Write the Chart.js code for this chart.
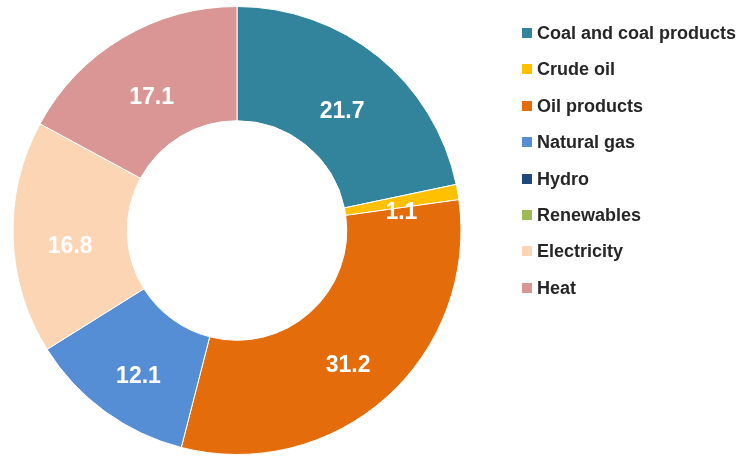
<!DOCTYPE html>
<html lang="en">
    <head>
        <meta charset="UTF-8">
        <title>Final consumption by source</title>
        <script src="https://cdn.jsdelivr.net/npm/chart.js@4.4.1/dist/chart.umd.min.js"></script>
        <style>
            body, html {
                margin: 0;
                padding: 0;
                background-color: #ffffff;
                font-family: 'Liberation Sans', Arial, sans-serif;
            }
            #wrap {
                position: relative;
                width: 745px;
                height: 463px;
            }
            #legend {
                position: absolute;
                left: 522px;
                top: 23px;
                margin: 0;
                padding: 0;
                list-style: none;
            }
            #legend li {
                height: 36.4px;
                line-height: 20px;
                font-size: 18px;
                font-weight: bold;
                color: #262626;
                white-space: nowrap;
            }
            #legend span {
                display: inline-block;
                width: 10px;
                height: 10px;
                margin-right: 5px;
                vertical-align: 1px;
            }
        </style>
    </head>
    <body>
        <div id="wrap">
            <canvas id="myChart" width="745" height="463"></canvas>
            <ul id="legend"></ul>
        </div>
    </body>
    <script>
        var labels = ["Coal and coal products", "Crude oil", "Oil products", "Natural gas", "Hydro", "Renewables", "Electricity", "Heat"]
        var shares = [21.7, 1.1, 31.2, 12.1, 0, 0, 16.8, 17.1]
        var colors = ["#31849b", "#ffc000", "#e46c0a", "#558ed5", "#1f497d", "#9bbb59", "#fcd5b5", "#d99694"]

        // value labels in the middle of each ring segment
        var sliceLabels = {
            id: 'sliceLabels',
            afterDatasetsDraw(chart) {
                var ctx = chart.ctx
                var meta = chart.getDatasetMeta(0)
                ctx.save()
                ctx.fillStyle = "#ffffff"
                ctx.font = "bold 23px 'Liberation Sans', Arial, sans-serif"
                ctx.textAlign = "center"
                ctx.textBaseline = "middle"
                meta.data.forEach((arc, i) => {
                    var v = chart.data.datasets[0].data[i]
                    if (!v) return
                    var p = arc.tooltipPosition()
                    ctx.fillText(v.toFixed(1), p.x, p.y + 11)
                })
                ctx.restore()
            }
        }

        var ctx = document.getElementById('myChart').getContext('2d');
        var myChart = new Chart(ctx, {
            type: 'doughnut',
            data: {
                labels: labels,
                datasets: [{
                    data: shares,
                    backgroundColor: colors,
                    borderColor: "#ffffff",
                    borderWidth: 1,
                }]
            },
            options: {
                responsive: false,
                devicePixelRatio: 1,
                animation: false,
                cutout: '49%',
                layout: {
                    padding: { left: 12, right: 283, top: 6, bottom: 8 }
                },
                plugins: {
                    legend: { display: false },
                    tooltip: { enabled: false },
                }
            },
            plugins: [sliceLabels]
        });

        var legend = document.getElementById("legend")
        labels.forEach((name, i) => {
            var li = document.createElement("li")
            li.innerHTML = `<span style="background:${colors[i]}"></span>${name}`
            legend.appendChild(li)
        })
    </script>
</html>
